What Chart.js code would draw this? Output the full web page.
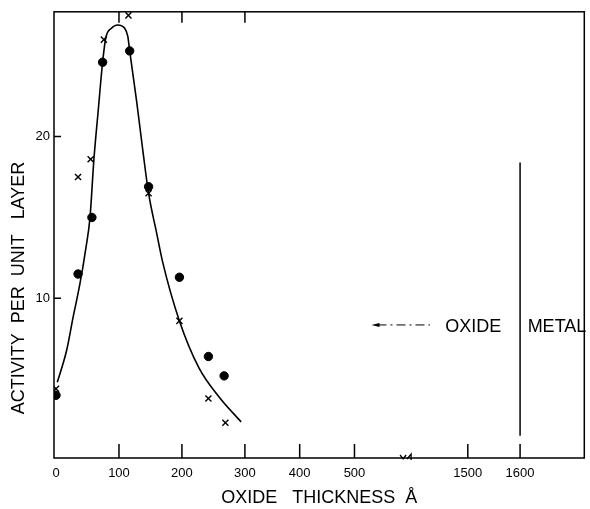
<!DOCTYPE html>
<html>
<head>
<meta charset="utf-8">
<script src="https://cdn.jsdelivr.net/npm/chart.js@4.4.1/dist/chart.umd.min.js"></script>
<style>
  html, body { margin: 0; padding: 0; background: #fff; }
</style>
</head>
<body>
<canvas id="oxideChart" width="590" height="509"></canvas>
<script>
'use strict';

// oxide thickness (A) vs activity per unit layer
var dotThickness = [0, 35, 57, 74, 117, 147, 196, 242, 267];
var dotActivity = [4.0, 11.5, 15.0, 24.6, 25.3, 16.9, 11.3, 6.4, 5.2];
var crossThickness = [0, 35, 55, 76, 115, 147, 196, 242, 269];
var crossActivity = [4.4, 17.5, 18.6, 26.0, 27.5, 16.5, 8.6, 3.8, 2.3];
var curveThickness = [2, 17, 27, 38, 47, 54, 60, 67, 74, 79, 88, 98, 109, 114, 117, 128, 138, 147, 160, 169, 196, 227, 259, 294];
var curveActivity = [4.8, 6.8, 8.8, 10.9, 13.0, 15.0, 18.5, 21.6, 24.6, 26.1, 26.7, 26.9, 26.7, 26.2, 25.3, 22.2, 19.1, 16.5, 14.0, 12.3, 8.6, 5.7, 3.9, 2.35];
var xTickLabels = [0, 100, 200, 300, 400, 500, 1500, 1600];
var topTickLabels = [100, 200, 300];
var yTickLabels = [10, 20];
var metalBoundary = 1600;
var metalLineActivity = [1.5, 18.4];

var FONT = '"Liberation Sans", Arial, sans-serif';

// hand-drawn broken axis: 0-300 as is, a bit tighter up to 500, then 1500+ after the break
function axisPos(t) {
  if (t <= 300) return t;
  if (t < 1000) return 300 + (t - 300) * 0.87;
  return 654 + (t - 1500) * 0.83;
}
var breakPos = 556;

function zip(xs, ys) {
  return xs.map(function (x, i) { return { x: axisPos(x), y: ys[i] }; });
}

var decorations = {
  id: 'decorations',
  afterDatasetsDraw: function (chart) {
    var ctx = chart.ctx;
    var a = chart.chartArea;
    var xs = chart.scales.x, ys = chart.scales.y;
    ctx.save();
    ctx.strokeStyle = '#000';
    ctx.fillStyle = '#000';
    ctx.lineWidth = 1.5;
    ctx.strokeRect(a.left, a.top, a.right - a.left, a.bottom - a.top);

    ctx.beginPath();
    xTickLabels.forEach(function (t) {
      if (t === 0) return;
      var px = xs.getPixelForValue(axisPos(t));
      ctx.moveTo(px, a.bottom); ctx.lineTo(px, a.bottom - 14);
    });
    topTickLabels.forEach(function (t) {
      var px = xs.getPixelForValue(axisPos(t));
      ctx.moveTo(px, a.top); ctx.lineTo(px, a.top + 11);
    });
    yTickLabels.forEach(function (v) {
      var py = ys.getPixelForValue(v);
      ctx.moveTo(a.left, py); ctx.lineTo(a.left + 7, py);
    });
    ctx.stroke();

    // axis break mark
    var bx = xs.getPixelForValue(breakPos);
    var by = a.bottom;
    ctx.lineWidth = 1.3;
    ctx.beginPath();
    ctx.moveTo(bx - 6, by - 3);
    ctx.lineTo(bx - 3, by + 1);
    ctx.lineTo(bx, by - 3);
    ctx.moveTo(bx + 1, by + 1);
    ctx.lineTo(bx + 5, by - 4);
    ctx.lineTo(bx + 5, by + 2);
    ctx.stroke();

    // oxide / metal annotation
    var ay = ys.getPixelForValue(8.35);
    var ax0 = xs.getPixelForValue(501), ax1 = xs.getPixelForValue(594);
    ctx.lineWidth = 1;
    ctx.setLineDash([9, 4, 2, 4]);
    ctx.beginPath();
    ctx.moveTo(ax0 + 6, ay); ctx.lineTo(ax1, ay);
    ctx.stroke();
    ctx.setLineDash([]);
    ctx.beginPath();
    ctx.moveTo(ax0, ay); ctx.lineTo(ax0 + 8, ay - 2); ctx.lineTo(ax0 + 8, ay + 2);
    ctx.closePath(); ctx.fill();

    ctx.font = '18px ' + FONT;
    ctx.textAlign = 'left';
    ctx.textBaseline = 'middle';
    var ty = ys.getPixelForValue(8.2);
    ctx.fillText('OXIDE', xs.getPixelForValue(618), ty);
    ctx.fillText('METAL', xs.getPixelForValue(749), ty);

    // y axis title
    ctx.translate(19, 288);
    ctx.rotate(-Math.PI / 2);
    ctx.textAlign = 'center';
    ctx.fillText('ACTIVITY  PER  UNIT   LAYER', 0, 0);
    ctx.restore();
  }
};

new Chart(document.getElementById('oxideChart').getContext('2d'), {
  type: 'scatter',
  data: {
    datasets: [
      {
        label: 'fit',
        data: zip(curveThickness, curveActivity),
        showLine: true,
        borderColor: '#000',
        borderWidth: 1.6,
        pointRadius: 0,
        tension: 0.4,
        cubicInterpolationMode: 'monotone'
      },
      {
        label: 'dots',
        data: zip(dotThickness, dotActivity),
        pointStyle: 'circle',
        pointRadius: 4.2,
        backgroundColor: '#000',
        borderColor: '#000'
      },
      {
        label: 'crosses',
        data: zip(crossThickness, crossActivity),
        pointStyle: 'crossRot',
        pointRadius: 4.3,
        borderWidth: 1.4,
        borderColor: '#000'
      },
      {
        label: 'oxide-metal boundary',
        data: metalLineActivity.map(function (v) { return { x: axisPos(metalBoundary), y: v }; }),
        showLine: true,
        borderColor: '#000',
        borderWidth: 1.5,
        pointRadius: 0
      }
    ]
  },
  plugins: [decorations],
  options: {
    responsive: false,
    animation: false,
    layout: { padding: { top: 11, right: 3, left: 0, bottom: 0 } },
    plugins: { legend: { display: false }, tooltip: { enabled: false } },
    scales: {
      x: {
        type: 'linear',
        min: -3.2,
        max: 839,
        grid: { display: false, drawTicks: false },
        border: { display: false },
        afterFit: function (s) { s.height = 51; },
        afterBuildTicks: function (s) {
          s.ticks = xTickLabels.map(function (t) { return { value: axisPos(t) }; });
        },
        ticks: {
          padding: 8,
          color: '#000',
          font: { size: 13, family: FONT },
          maxRotation: 0,
          autoSkip: false,
          callback: function (v, i) { return String(xTickLabels[i]); }
        },
        title: {
          display: true,
          text: 'OXIDE   THICKNESS  \u00C5',
          color: '#000',
          font: { size: 18, family: FONT },
          padding: { top: 0, bottom: 0 }
        }
      },
      y: {
        type: 'linear',
        min: 0.12,
        max: 27.72,
        grid: { display: false, drawTicks: false },
        border: { display: false },
        afterFit: function (s) { s.width = 54; },
        afterBuildTicks: function (s) {
          s.ticks = yTickLabels.map(function (v) { return { value: v }; });
        },
        ticks: {
          padding: 4,
          color: '#000',
          font: { size: 13, family: FONT },
          callback: function (v) { return String(v); }
        }
      }
    }
  }
});
</script>
</body>
</html>
